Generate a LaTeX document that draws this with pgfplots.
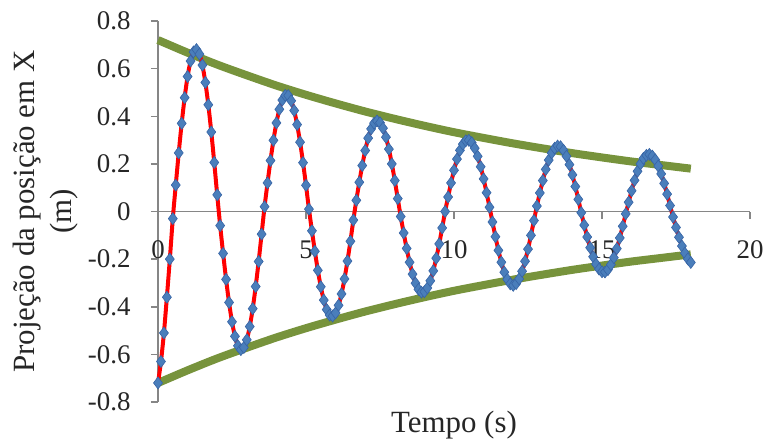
\documentclass[border=0pt]{standalone}
\usepackage{pgfplots}
\usepackage{pgfplotstable}
\pgfplotsset{compat=1.18}
\usepackage{fontspec}
\setmainfont{Liberation Serif}
\definecolor{envgreen}{RGB}{119,147,60}
\definecolor{markblue}{RGB}{74,126,187}
\definecolor{markedge}{RGB}{55,100,165}
\definecolor{axgray}{RGB}{134,134,134}

\pgfplotstableread{
t y
0 -0.72
0.1 -0.63
0.2 -0.51
0.3 -0.36
0.4 -0.20
0.5 -0.03
0.6 0.111
0.7 0.246
0.8 0.370
0.9 0.478
1.0 0.567
1.1 0.632
1.2 0.670
1.3 0.680
1.4 0.661
1.5 0.615
1.6 0.542
1.7 0.448
1.8 0.334
1.9 0.206
2.0 0.070
2.1 -0.059
2.2 -0.176
2.3 -0.285
2.4 -0.382
2.5 -0.463
2.6 -0.524
2.7 -0.564
2.8 -0.580
2.9 -0.571
3.0 -0.539
3.1 -0.483
3.2 -0.408
3.3 -0.315
3.4 -0.210
3.5 -0.095
3.6 0.020
3.7 0.120
3.8 0.214
3.9 0.299
4.0 0.372
4.1 0.429
4.2 0.468
4.3 0.488
4.4 0.487
4.5 0.465
4.6 0.424
4.7 0.365
4.8 0.291
4.9 0.205
5.0 0.110
5.1 0.010
5.2 -0.081
5.3 -0.167
5.4 -0.247
5.5 -0.316
5.6 -0.372
5.7 -0.412
5.8 -0.435
5.9 -0.439
6.0 -0.426
6.1 -0.394
6.2 -0.346
6.3 -0.283
6.4 -0.208
6.5 -0.125
6.6 -0.036
6.7 0.047
6.8 0.123
6.9 0.193
7.0 0.256
7.1 0.308
7.2 0.347
7.3 0.371
7.4 0.380
7.5 0.373
7.6 0.350
7.7 0.312
7.8 0.262
7.9 0.200
8.0 0.130
8.1 0.054
8.2 -0.021
8.3 -0.090
8.4 -0.155
8.5 -0.213
8.6 -0.263
8.7 -0.301
8.8 -0.327
8.9 -0.339
9.0 -0.337
9.1 -0.321
9.2 -0.291
9.3 -0.249
9.4 -0.196
9.5 -0.136
9.6 -0.069
9.7 0.000
9.8 0.061
9.9 0.120
10.0 0.173
10.1 0.220
10.2 0.257
10.3 0.283
10.4 0.297
10.5 0.299
10.6 0.289
10.7 0.266
10.8 0.232
10.9 0.188
11.0 0.137
11.1 0.079
11.2 0.018
11.3 -0.044
11.4 -0.106
11.5 -0.163
11.6 -0.213
11.7 -0.255
11.8 -0.285
11.9 -0.304
12.0 -0.310
12.1 -0.303
12.2 -0.283
12.3 -0.251
12.4 -0.209
12.5 -0.158
12.6 -0.100
12.7 -0.038
12.8 0.023
12.9 0.078
13.0 0.130
13.1 0.177
13.2 0.216
13.3 0.246
13.4 0.266
13.5 0.275
13.6 0.272
13.7 0.257
13.8 0.232
13.9 0.197
14.0 0.154
14.1 0.105
14.2 0.051
14.3 -0.005
14.4 -0.057
14.5 -0.107
14.6 -0.152
14.7 -0.190
14.8 -0.221
14.9 -0.242
15.0 -0.253
15.1 -0.254
15.2 -0.244
15.3 -0.223
15.4 -0.194
15.5 -0.156
15.6 -0.111
15.7 -0.062
15.8 -0.010
15.9 0.039
16.0 0.087
16.1 0.131
16.2 0.169
16.3 0.200
16.4 0.223
16.5 0.236
16.6 0.240
16.7 0.233
16.8 0.217
16.9 0.191
17.0 0.158
17.1 0.118
17.2 0.073
17.3 0.025
17.4 -0.023
17.5 -0.067
17.6 -0.108
17.7 -0.145
17.8 -0.175
17.9 -0.199
18.0 -0.214
}\posdata

\pgfplotstableread{
t up low
0 0.720 -0.720
1 0.667 -0.667
2 0.617 -0.617
3 0.572 -0.572
4 0.529 -0.529
5 0.490 -0.490
6 0.454 -0.454
7 0.420 -0.420
8 0.389 -0.389
9 0.360 -0.360
10 0.333 -0.333
11 0.309 -0.309
12 0.286 -0.286
13 0.265 -0.265
14 0.245 -0.245
15 0.227 -0.227
16 0.210 -0.210
17 0.195 -0.195
18 0.180 -0.180
}\envdata

\begin{document}
\begin{tikzpicture}
\path[use as bounding box] (-158bp,-41bp) rectangle (608bp,402bp);
\begin{axis}[
  scale only axis,
  width=592bp, height=381bp,
  xmin=0, xmax=20, ymin=-0.8, ymax=0.8,
  axis x line*=middle,
  axis y line*=left,
  axis line style={axgray, line width=1.5bp},
  hide obscured x ticks=false,
  hide obscured y ticks=false,
  clip=false,
  tick align=outside,
  major tick length=7bp,
  tick style={axgray, line width=1.5bp},
  xtick={0,5,10,15,20},
  xticklabels={0,5,10,15,20},
  ytick={-0.8,-0.6,-0.4,-0.2,0,0.2,0.4,0.6,0.8},
  yticklabels={-0.8,-0.6,-0.4,-0.2,0,0.2,0.4,0.6,0.8},
  minor tick num=0,
  ticklabel style={font=\fontsize{27}{32}\selectfont, text=black!85},
  xticklabel style={anchor=north, yshift=-19bp},
  yticklabel style={anchor=east, xshift=-17bp},
  xlabel={Tempo (s)},
  xlabel style={at={(axis description cs:0.5,0)}, anchor=base, yshift=-30.5bp, font=\fontsize{31}{37}\selectfont, text=black!85},
  ylabel={Projeção da posição em X\\(m)},
  ylabel style={at={(axis description cs:-0.19,0.5)}, anchor=center, rotate=0, align=center, font=\fontsize{31}{37}\selectfont, text=black!85},
]
\addplot[envgreen, line width=8bp, no marks, smooth] table[x=t, y=up] {\envdata};
\addplot[envgreen, line width=8bp, no marks, smooth] table[x=t, y=low] {\envdata};
\addplot[red, line width=4bp, no marks, smooth] table[x=t, y=y] {\posdata};
\addplot[only marks, mark=diamond*, mark size=6bp, mark options={fill=markblue, draw=markedge, line width=0.6bp}] table[x=t, y=y] {\posdata};
\end{axis}
\end{tikzpicture}
\end{document}
